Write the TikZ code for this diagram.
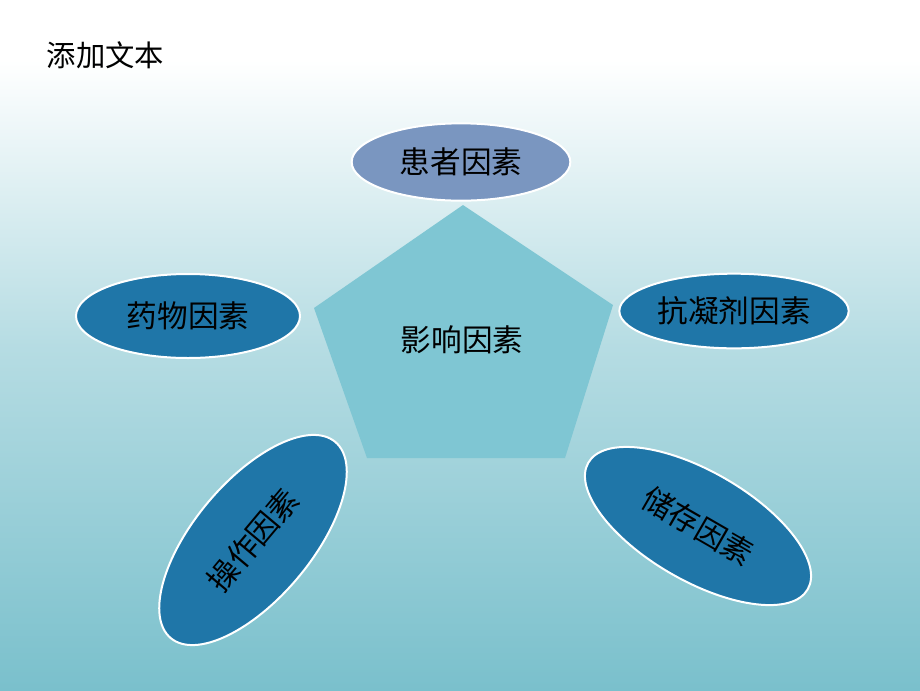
\documentclass[tikz,border=0pt]{standalone}
\usepackage{fontspec}
\newfontfamily\cjk{Noto Sans CJK SC}
\usetikzlibrary{shapes.geometric}
\definecolor{bgteal}{RGB}{122,192,204}
\definecolor{pentcol}{RGB}{127,198,211}
\definecolor{topcol}{RGB}{122,150,192}
\definecolor{factcol}{RGB}{31,118,168}
\tikzset{
	factor/.style={ellipse,draw=white,line width=1.5pt,fill=factcol,inner sep=0pt,font=\cjk\fontsize{23}{26}\selectfont},
	label/.style={font=\cjk\fontsize{23}{26}\selectfont}
}
\begin{document}
\begin{tikzpicture}[x=0.75pt,y=-0.75pt]
	% background
	\fill[white] (0,0) rectangle (920,60);
	\shade[top color=white,bottom color=white!45!bgteal] (0,60) rectangle (920,345);
	\shade[top color=white!45!bgteal,bottom color=bgteal] (0,345) rectangle (920,690);

	\node[anchor=west,font=\cjk\fontsize{22}{26}\selectfont] (title) at (42,55) {添加文本};

	% pentagon
	\fill[pentcol] (463,205) -- (613,305) -- (565,458) -- (367,458) -- (314,308) -- cycle;
	\node[label] (center) at (462,340) {影响因素};

	\node[factor,fill=topcol,minimum width=164pt,minimum height=58pt] (patient) at (461,162) {患者因素};
	\node[factor,minimum width=168pt,minimum height=63pt] (drug) at (188,316) {药物因素};
	\node[factor,minimum width=172pt,minimum height=56pt] (anticoag) at (734,311) {抗凝剂因素};
	\node[factor,rotate=50,minimum width=192pt,minimum height=88pt] (operate) at (253,540) {操作因素};
	\node[factor,rotate=-30,minimum width=190pt,minimum height=82pt] (storage) at (698,526) {储存因素};
\end{tikzpicture}
\end{document}
